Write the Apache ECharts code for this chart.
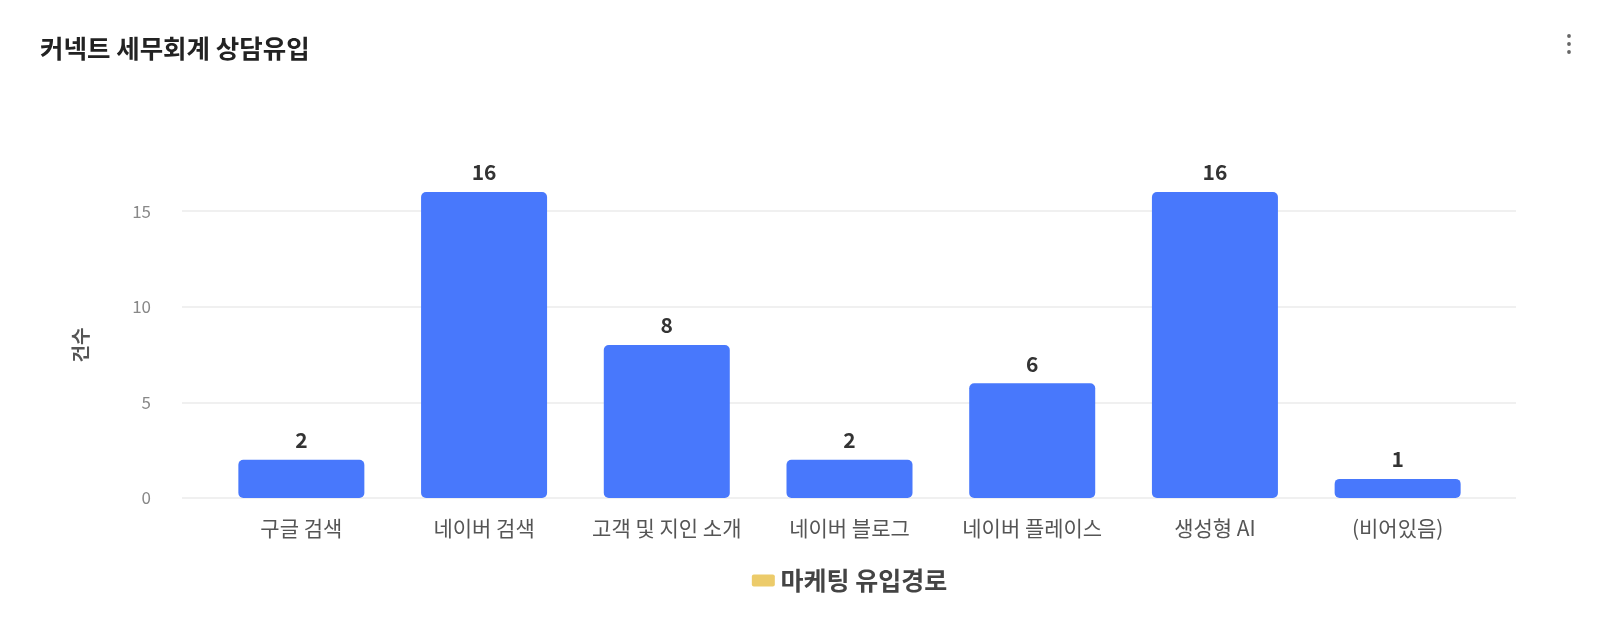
<!DOCTYPE html>
<html><head><meta charset="utf-8">
<script src="https://cdn.jsdelivr.net/npm/echarts@6/dist/echarts.min.js"></script>
<style>html,body{margin:0;padding:0;background:#fff}#c{width:1600px;height:643px}</style>
</head><body><div id="c"></div>
<script>
const categories = ['구글 검색','네이버 검색','고객 및 지인 소개','네이버 블로그','네이버 플레이스','생성형 AI','(비어있음)'];
const values = [2,16,8,2,6,16,1];
const yTicks = [0,5,10,15];

const FONT = '"Noto Sans CJK KR","Noto Sans",sans-serif';
const chart = echarts.init(document.getElementById('c'));
chart.setOption({
  backgroundColor:'#fff',
  animation:false,
  textStyle:{fontFamily:FONT},
  title:{text:'커넥트 세무회계 상담유입',left:35,top:31,textStyle:{fontFamily:FONT,fontSize:25.5,fontWeight:'bold',color:'#222'}},
  graphic:[
    {type:'circle',shape:{cx:1569,cy:36,r:1.9},style:{fill:'#666'}},
    {type:'circle',shape:{cx:1569,cy:44,r:1.9},style:{fill:'#666'}},
    {type:'circle',shape:{cx:1569,cy:52,r:1.9},style:{fill:'#666'}}
  ],
  grid:[
    {left:210,right:111,top:192,bottom:145},
    {left:182,right:84,top:192,bottom:145}
  ],
  xAxis:[
    {type:'category',gridIndex:0,data:categories,
     axisLine:{show:false},axisTick:{show:false},
     axisLabel:{interval:0,hideOverlap:false,margin:20,fontSize:21,color:'#555',fontFamily:FONT},
     name:'{icon|}{t| 마케팅 유입경로}',nameLocation:'middle',nameGap:70,
     nameTextStyle:{rich:{
       icon:{width:23,height:12,borderRadius:2,backgroundColor:'#ECCB6A'},
       t:{fontSize:25,fontWeight:'bold',color:'#444',fontFamily:FONT}
     }}},
    {type:'category',gridIndex:1,data:[''],show:false}
  ],
  yAxis:[
    {type:'value',gridIndex:0,min:0,max:16,interval:5,
     axisLabel:{show:false},splitLine:{show:false},axisLine:{show:false},axisTick:{show:false}},
    {type:'value',gridIndex:1,min:0,max:16,interval:5,
     axisLine:{show:false},axisTick:{show:false},
     axisLabel:{margin:31,fontSize:17,color:'#888',fontFamily:FONT,showMaxLabel:false,
       formatter:v=>yTicks.includes(v)?String(v):''},
     splitLine:{show:true,showMaxLine:false,lineStyle:{color:'#F0F0F0',width:2}},
     name:'건수',nameLocation:'middle',nameGap:92,nameRotate:90,
     nameTextStyle:{fontSize:19,fontWeight:600,color:'#555',fontFamily:FONT}}
  ],
  series:[{
    type:'bar',xAxisIndex:0,yAxisIndex:0,data:values,barWidth:126,
    itemStyle:{color:'#4878FC',borderRadius:5},
    label:{show:true,position:'top',distance:9,fontSize:21,fontWeight:'bold',color:'#333',fontFamily:FONT}
  }]
});
</script></body></html>
